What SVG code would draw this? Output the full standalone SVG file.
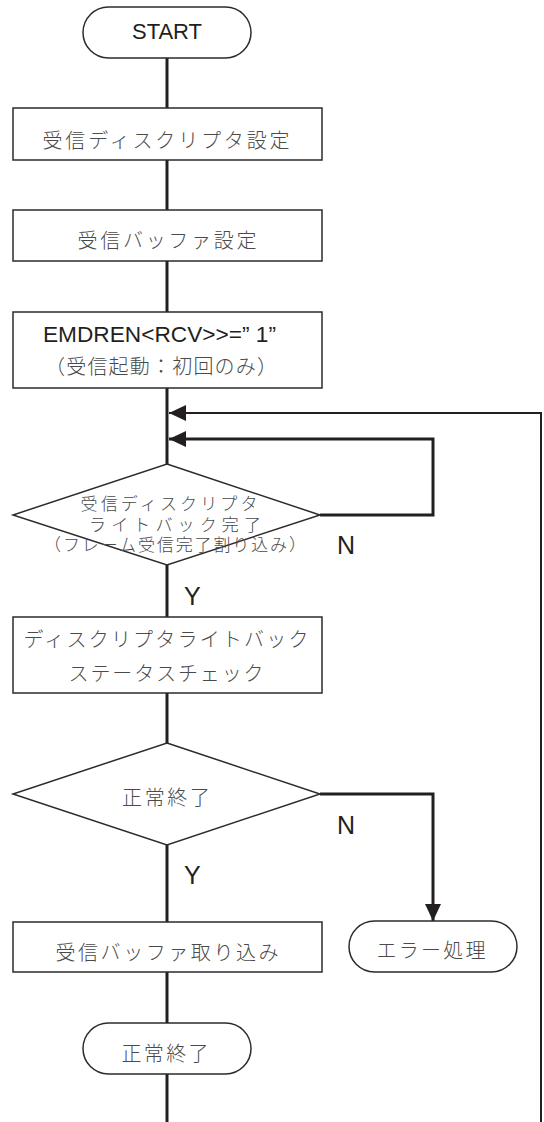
<svg xmlns="http://www.w3.org/2000/svg" width="544" height="1122" viewBox="0 0 544 1122">
<style>
.shape{fill:#fff;stroke:#2b2b2b;stroke-width:1.5}
.conn{fill:none;stroke:#231f20;stroke-width:3}
.thin{fill:none;stroke:#231f20;stroke-width:2}
.jp{font-family:"Noto Sans CJK JP","Noto Sans CJK SC",sans-serif;font-size:20px;fill:#4a4a4a;font-weight:300;text-anchor:middle;dominant-baseline:central}
.jps{font-size:17px}
.en{font-family:"Liberation Sans",Arial,sans-serif;font-size:22px;fill:#231f20}
.lbl{font-family:"Liberation Sans",Arial,sans-serif;font-size:25px;fill:#231f20}
</style>
<defs>
<marker id="ah" markerUnits="userSpaceOnUse" markerWidth="17" markerHeight="16" refX="17" refY="8" orient="auto" viewBox="0 0 17 16">
<path d="M0,0 L17,8 L0,16 z" fill="#231f20"/>
</marker>
</defs>
<g id="connectors">
<line class="conn" x1="167" y1="58" x2="167" y2="108"/>
<line class="conn" x1="167" y1="160" x2="167" y2="210"/>
<line class="conn" x1="167" y1="261" x2="167" y2="312"/>
<line class="conn" x1="167" y1="388" x2="167" y2="464"/>
<polyline class="thin" points="541,1122 541,413 169,413" marker-end="url(#ah)"/>
<polyline class="conn" points="320,515 433,515 433,439 169,439" marker-end="url(#ah)"/>
<line class="conn" x1="167" y1="565" x2="167" y2="617"/>
<line class="conn" x1="167" y1="693" x2="167" y2="743"/>
<line class="conn" x1="167" y1="845" x2="167" y2="922"/>
<polyline class="conn" points="320,794 433,794 433,921" marker-end="url(#ah)"/>
<line class="conn" x1="167" y1="972" x2="167" y2="1023"/>
<line class="conn" x1="167" y1="1074" x2="167" y2="1122"/>
<text class="lbl" x="337" y="554">N</text>
<text class="lbl" x="184" y="605">Y</text>
<text class="lbl" x="337" y="834">N</text>
<text class="lbl" x="184" y="884">Y</text>
</g>
<g id="start">
<rect class="shape" x="83" y="7" width="168" height="51" rx="25.5"/>
<text class="en" x="167" y="39" text-anchor="middle">START</text>
</g>
<g id="rx-descriptor-setup">
<rect class="shape" x="13" y="108" width="309" height="52"/>
<text class="jp" x="166" y="139" textLength="247" lengthAdjust="spacing">受信ディスクリプタ設定</text>
</g>
<g id="rx-buffer-setup">
<rect class="shape" x="13" y="210" width="309" height="51"/>
<text class="jp" x="167" y="239" textLength="179" lengthAdjust="spacing">受信バッファ設定</text>
</g>
<g id="rx-start">
<rect class="shape" x="13" y="312" width="309" height="76"/>
<text class="en" x="43" y="342" textLength="233" lengthAdjust="spacingAndGlyphs">EMDREN&lt;RCV&gt;&gt;=” 1”</text>
<text class="jp" x="161" y="365" textLength="232" lengthAdjust="spacing">（受信起動：初回のみ）</text>
</g>
<g id="writeback-check">
<polygon class="shape" points="167,464 320,515 167,565 13,515"/>
<text class="jp jps" x="169" y="502" textLength="177" lengthAdjust="spacing">受信ディスクリプタ</text>
<text class="jp jps" x="175" y="523" textLength="172" lengthAdjust="spacing">ライトバック完了</text>
<text class="jp jps" x="175" y="543" textLength="262" lengthAdjust="spacing">（フレーム受信完了割り込み）</text>
</g>
<g id="status-check">
<rect class="shape" x="13" y="617" width="309" height="76"/>
<text class="jp" x="166" y="638" textLength="285" lengthAdjust="spacing">ディスクリプタライトバック</text>
<text class="jp" x="166" y="672" textLength="195" lengthAdjust="spacing">ステータスチェック</text>
</g>
<g id="normal-end-check">
<polygon class="shape" points="167,743 320,794 167,845 13,794"/>
<text class="jp" x="166" y="796" textLength="88" lengthAdjust="spacing">正常終了</text>
</g>
<g id="rx-buffer-fetch">
<rect class="shape" x="13" y="922" width="309" height="50"/>
<text class="jp" x="167" y="951" textLength="223" lengthAdjust="spacing">受信バッファ取り込み</text>
</g>
<g id="error-handling">
<rect class="shape" x="349" y="921" width="168" height="51" rx="25.5"/>
<text class="jp" x="431" y="949" textLength="109" lengthAdjust="spacing">エラー処理</text>
</g>
<g id="normal-end">
<rect class="shape" x="83" y="1023" width="168" height="51" rx="25.5"/>
<text class="jp" x="165" y="1052" textLength="87" lengthAdjust="spacing">正常終了</text>
</g>
</svg>
